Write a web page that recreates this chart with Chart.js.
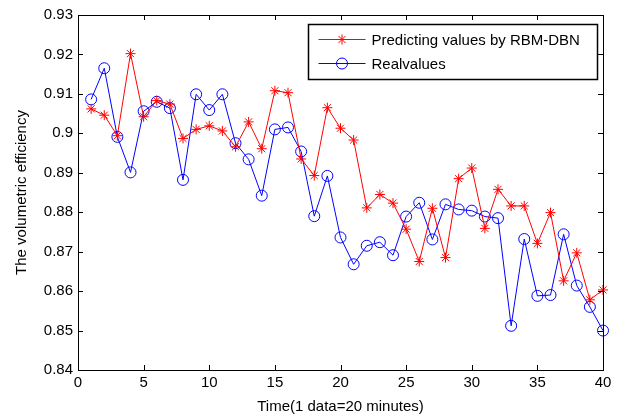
<!DOCTYPE html>
<html>
<head>
<meta charset="utf-8">
<script src="https://cdn.jsdelivr.net/npm/chart.js@4/dist/chart.umd.min.js"></script>
<style>
  html, body { margin: 0; padding: 0; background: #fff; }
  #wrap { width: 621px; height: 416px; }
</style>
</head>
<body>
<div id="wrap"><canvas id="effChart" width="621" height="416"></canvas></div>
<script>
// Time index 1..40
const timeSteps = [1, 2, 3, 4, 5, 6, 7, 8, 9, 10, 11, 12, 13, 14, 15, 16, 17, 18, 19, 20,
    21, 22, 23, 24, 25, 26, 27, 28, 29, 30, 31, 32, 33, 34, 35, 36, 37, 38, 39, 40];

// Predicting values by RBM-DBN (red stars)
const predicted = [0.9062, 0.9046, 0.8994, 0.9202, 0.9042, 0.9083, 0.9074, 0.8987, 0.9010, 0.9019,
    0.9006, 0.8966, 0.9029, 0.8961, 0.9108, 0.9103, 0.8935, 0.8893, 0.9065, 0.9013,
    0.8983, 0.8811, 0.8845, 0.8823, 0.8757, 0.8675, 0.8810, 0.8685, 0.8885, 0.8912,
    0.8759, 0.8858, 0.8816, 0.8816, 0.8721, 0.8799, 0.8626, 0.8697, 0.8578, 0.8603];

// Real values (blue circles)
const realValues = [0.9086, 0.9165, 0.8991, 0.8901, 0.9056, 0.9080, 0.9064, 0.8882, 0.9099, 0.9059,
    0.9099, 0.8975, 0.8934, 0.8842, 0.9010, 0.9015, 0.8954, 0.8790, 0.8892, 0.8736,
    0.8668, 0.8715, 0.8724, 0.8691, 0.8789, 0.8824, 0.8731, 0.8820, 0.8807, 0.8804,
    0.8789, 0.8785, 0.8512, 0.8732, 0.8588, 0.8590, 0.8744, 0.8614, 0.8560, 0.8500];

const xTicks = [0, 5, 10, 15, 20, 25, 30, 35, 40];
const yTicks = [0.84, 0.85, 0.86, 0.87, 0.88, 0.89, 0.90, 0.91, 0.92, 0.93];

const seriesNames = ['Predicting values by RBM-DBN', 'Realvalues'];

const FONT = 'Arial, "Liberation Sans", sans-serif';

// Frame, inward ticks on all four sides and the boxed legend (MATLAB style)
const matlabFrame = {
    id: 'matlabFrame',
    afterDraw(chart) {
        const ctx = chart.ctx;
        const area = chart.chartArea;
        const xs = chart.scales.x;
        const ys = chart.scales.y;
        const tl = 5;

        ctx.save();
        ctx.strokeStyle = '#000';
        ctx.lineWidth = 1;
        ctx.strokeRect(Math.round(area.left) + 0.5, Math.round(area.top) + 0.5,
            Math.round(area.right - area.left), Math.round(area.bottom - area.top));

        ctx.beginPath();
        xTicks.forEach(v => {
            const px = Math.round(xs.getPixelForValue(v)) + 0.5;
            ctx.moveTo(px, area.bottom); ctx.lineTo(px, area.bottom - tl);
            ctx.moveTo(px, area.top); ctx.lineTo(px, area.top + tl);
        });
        yTicks.forEach(v => {
            const py = Math.round(ys.getPixelForValue(v)) + 0.5;
            ctx.moveTo(area.left, py); ctx.lineTo(area.left + tl, py);
            ctx.moveTo(area.right, py); ctx.lineTo(area.right - tl, py);
        });
        ctx.stroke();

        // legend box
        const w = 289, h = 55;
        const lx = Math.round(area.right - 6 - w) + 0.5;
        const ly = Math.round(area.top + 9) + 0.5;
        ctx.fillStyle = '#fff';
        ctx.fillRect(lx, ly, w, h);
        ctx.lineWidth = 1.5;
        ctx.strokeRect(lx, ly, w, h);

        ctx.font = '15px ' + FONT;
        ctx.textBaseline = 'middle';
        ctx.textAlign = 'left';
        chart.data.datasets.forEach((ds, i) => {
            const rowY = ly + 15 + i * 24;
            const x0 = lx + 10, x1 = lx + 57;
            ctx.strokeStyle = ds.borderColor;
            ctx.lineWidth = 1;
            ctx.beginPath();
            ctx.moveTo(x0, rowY); ctx.lineTo(x1, rowY);
            ctx.stroke();
            ctx.fillStyle = 'rgba(0,0,0,0)';
            ctx.strokeStyle = ds.pointBorderColor;
            Chart.helpers.drawPoint(ctx, {
                pointStyle: ds.pointStyle,
                radius: ds.pointRadius,
                rotation: 0,
                borderWidth: 1
            }, (x0 + x1) / 2, rowY);
            ctx.fillStyle = '#000';
            ctx.fillText(ds.label, lx + 63, rowY + 1);
        });
        ctx.restore();
    }
};

const ctx = document.getElementById('effChart').getContext('2d');
new Chart(ctx, {
    type: 'line',
    data: {
        datasets: [
            {
                label: seriesNames[0],
                data: timeSteps.map((t, i) => ({ x: t, y: predicted[i] })),
                borderColor: '#ff0000',
                backgroundColor: 'rgba(0,0,0,0)',
                borderWidth: 1,
                pointStyle: 'star',
                pointRadius: 5,
                pointBorderWidth: 1,
                pointBorderColor: '#ff0000',
                tension: 0,
                fill: false
            },
            {
                label: seriesNames[1],
                data: timeSteps.map((t, i) => ({ x: t, y: realValues[i] })),
                borderColor: '#0000ff',
                backgroundColor: 'rgba(0,0,0,0)',
                borderWidth: 1,
                pointStyle: 'circle',
                pointRadius: 5.5,
                pointBorderWidth: 1,
                pointBorderColor: '#0000ff',
                pointBackgroundColor: 'rgba(0,0,0,0)',
                tension: 0,
                fill: false
            }
        ]
    },
    options: {
        responsive: false,
        animation: false,
        clip: false,
        layout: { padding: { left: 0, right: 18, top: 15, bottom: 0 } },
        plugins: {
            legend: { display: false },
            tooltip: { enabled: false }
        },
        scales: {
            x: {
                type: 'linear',
                min: 0,
                max: 40,
                afterBuildTicks: s => { s.ticks = xTicks.map(v => ({ value: v })); },
                afterFit: s => { s.height = 46; },
                grid: { display: false, drawTicks: false },
                border: { display: false },
                ticks: {
                    color: '#000',
                    font: { family: FONT, size: 15 },
                    padding: 4,
                    maxRotation: 0,
                    autoSkip: false
                },
                title: {
                    display: true,
                    text: 'Time(1 data=20 minutes)',
                    color: '#000',
                    font: { family: FONT, size: 15 },
                    padding: { top: 2, bottom: 0 }
                }
            },
            y: {
                type: 'linear',
                min: 0.84,
                max: 0.93,
                afterBuildTicks: s => { s.ticks = yTicks.map(v => ({ value: v })); },
                afterFit: s => { s.width = 78; },
                grid: { display: false, drawTicks: false },
                border: { display: false },
                ticks: {
                    color: '#000',
                    font: { family: FONT, size: 15 },
                    padding: 5,
                    autoSkip: false,
                    callback: v => String(Number(v.toFixed(2)))
                },
                title: {
                    display: true,
                    text: 'The volumetric efficiency',
                    color: '#000',
                    font: { family: FONT, size: 15 },
                    padding: { top: 13, bottom: 4 }
                }
            }
        }
    },
    plugins: [matlabFrame]
});
</script>
</body>
</html>
